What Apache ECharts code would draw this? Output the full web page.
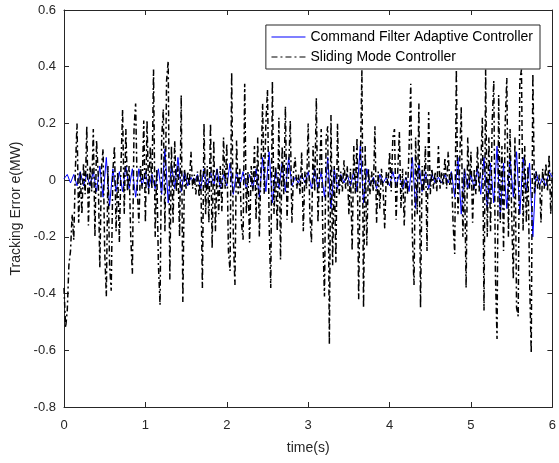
<!DOCTYPE html>
<html>
<head>
<meta charset="utf-8">
<script src="https://cdn.jsdelivr.net/npm/echarts@6/dist/echarts.min.js"></script>
<style>html,body{margin:0;padding:0;background:#fff;}#chart{width:559px;height:463px;}</style>
</head>
<body>
<div id="chart"></div>
<script>
// time step of each series' samples (s)
const smcStep = 0.02;
const cfacStep = 0.04;
// Sliding Mode Controller tracking error, samples every 0.02 s from t=0 to 6
const smcError = [
 -0.38,-0.52,-0.46,-0.30,-0.25,-0.12,-0.21,0.04,0.20,-0.15,
 0.03,-0.12,0.06,-0.05,0.19,-0.16,0.05,-0.04,0.18,-0.20,
 0.14,0.02,-0.31,0.04,0.11,-0.25,-0.41,0.05,-0.30,-0.39,
 0.03,0.12,-0.18,0.03,-0.22,0.05,0.25,-0.12,0.18,-0.04,
 0.05,-0.20,-0.33,0.18,0.27,-0.04,-0.15,0.05,-0.03,0.21,
 -0.15,0.21,-0.05,0.12,-0.03,0.39,-0.20,0.04,-0.30,-0.44,
 0.15,0.25,-0.18,0.35,0.42,-0.35,0.12,-0.15,0.14,-0.04,
 0.05,-0.20,0.30,-0.43,0.04,-0.03,0.03,-0.02,0.10,-0.03,
 0.02,-0.05,0.03,-0.06,0.04,-0.38,0.20,-0.12,0.05,-0.15,
 0.20,-0.24,0.14,-0.18,0.04,-0.12,0.05,-0.11,0.15,-0.03,
 0.13,-0.25,-0.32,0.38,-0.20,-0.37,0.14,-0.05,0.04,-0.15,
 -0.21,0.34,-0.12,0.03,-0.22,0.05,-0.04,0.12,-0.14,0.15,
 -0.20,0.05,0.27,-0.05,0.20,0.32,-0.15,-0.38,0.35,-0.12,
 0.05,-0.18,0.22,-0.28,0.12,-0.05,0.26,-0.14,0.04,0.21,
 -0.15,0.03,0.08,-0.03,0.02,-0.05,0.10,-0.18,0.03,-0.03,
 0.20,-0.12,-0.22,0.12,-0.04,0.29,-0.15,0.04,0.18,-0.20,
 -0.41,0.15,0.19,-0.58,0.23,-0.30,0.05,-0.29,0.20,-0.05,
 0.03,-0.04,0.07,-0.03,0.05,-0.12,0.04,-0.25,0.12,-0.05,
 0.15,-0.42,0.05,0.39,-0.45,0.12,-0.23,0.04,-0.05,0.03,
 -0.04,0.19,-0.15,0.03,-0.10,0.04,-0.03,-0.17,0.03,-0.02,
 0.10,-0.04,0.15,0.18,-0.14,0.03,0.17,-0.10,0.04,-0.16,
 0.03,-0.05,0.12,0.34,-0.20,-0.37,0.15,-0.12,0.27,-0.45,
 0.05,-0.04,0.12,-0.25,0.24,-0.05,0.04,-0.03,0.03,-0.04,
 0.12,-0.03,0.03,-0.02,0.08,-0.03,0.10,-0.02,0.03,-0.15,
 -0.26,0.39,-0.12,0.05,0.26,-0.20,0.04,-0.38,0.15,-0.03,
 0.10,-0.15,0.04,-0.05,0.12,-0.04,0.05,0.22,-0.46,0.39,
 -0.20,0.15,-0.18,0.20,0.35,-0.33,-0.56,0.30,-0.15,0.12,
 -0.25,0.20,0.36,-0.20,0.18,-0.12,-0.35,0.15,-0.45,-0.48,
 0.35,0.39,-0.18,0.12,-0.15,0.05,-0.35,-0.61,0.375,-0.05,
 0.03,-0.03,0.02,-0.15,0.04,-0.03,0.06,-0.04,0.09,-0.12,
 0.03
];
// Command Filter Adaptive Controller tracking error, samples every 0.04 s from t=0 to 6
const cfacError = [
 0.005,0.02,-0.01,0.02,-0.02,0.03,-0.02,0.02,-0.02,0.03,
 -0.04,0.05,-0.06,0.08,-0.09,0.04,-0.04,0.03,-0.04,0.05,
 -0.03,0.04,-0.06,0.04,-0.02,0.03,-0.03,0.02,-0.03,0.04,
 -0.05,0.11,-0.08,0.06,-0.03,0.08,-0.04,0.03,-0.02,0.01,
 -0.01,0.02,-0.03,0.04,-0.03,0.03,-0.02,0.04,-0.03,0.02,
 -0.02,0.06,-0.05,0.03,-0.02,0.03,-0.03,0.02,-0.03,0.04,
 -0.06,0.08,-0.04,0.10,-0.08,0.04,-0.03,0.06,-0.04,0.08,
 -0.02,0.01,-0.01,0.02,-0.01,0.03,-0.03,0.04,-0.03,0.03,
 -0.06,0.08,-0.10,0.04,-0.03,0.02,-0.01,0.02,-0.02,0.03,
 -0.04,0.12,-0.08,0.04,-0.02,0.01,-0.03,0.02,-0.01,0.01,
 -0.02,0.03,-0.02,0.02,-0.03,0.01,-0.04,0.08,-0.10,0.06,
 -0.04,0.03,-0.03,0.02,-0.01,0.01,-0.01,0.02,-0.01,0.03,
 -0.06,0.08,-0.12,0.04,-0.03,0.02,-0.03,0.04,-0.05,0.08,
 -0.10,0.06,-0.08,0.12,-0.13,0.06,-0.10,0.08,-0.06,0.10,
 -0.12,0.08,-0.04,0.06,-0.20,0.03,-0.02,0.01,-0.02,0.03,
 0.01
];
const xTicks = [0, 1, 2, 3, 4, 5, 6];
const yTicks = [-0.8, -0.6, -0.4, -0.2, 0, 0.2, 0.4, 0.6];
const seriesNames = ['Command Filter Adaptive Controller', 'Sliding Mode Controller'];
const xName = 'time(s)';
const yName = 'Tracking Error e(MW)';

const smcData = smcError.map((v, i) => [i * smcStep, v]);
const cfacData = cfacError.map((v, i) => [i * cfacStep, v]);

const axisColor = '#262626';
const font = 'Liberation Sans, Arial, sans-serif';
const chart = echarts.init(document.getElementById('chart'), null, {renderer: 'canvas'});
const baseX = {
  type: 'value', min: xTicks[0], max: xTicks[xTicks.length - 1], interval: 1,
  axisLine: {show: true, onZero: false, lineStyle: {color: axisColor, width: 1}},
  axisTick: {show: true, inside: true, length: 5, lineStyle: {color: axisColor}},
  splitLine: {show: false}
};
const baseY = {
  type: 'value', min: yTicks[0], max: yTicks[yTicks.length - 1], interval: 0.2,
  axisLine: {show: true, onZero: false, lineStyle: {color: axisColor, width: 1}},
  axisTick: {show: true, inside: true, length: 5, lineStyle: {color: axisColor}},
  splitLine: {show: false}
};
chart.setOption({
  animation: false,
  backgroundColor: '#fff',
  grid: {left: 64, right: 4, top: 10, bottom: 56, containLabel: false},
  legend: {
    orient: 'vertical', right: 19, top: 25,
    data: seriesNames,
    backgroundColor: '#fff', borderColor: axisColor, borderWidth: 1,
    padding: [5, 7, 5, 5], itemGap: 6, itemWidth: 34, itemHeight: 14,
    itemStyle: {opacity: 0},
    lineStyle: {width: 1.2},
    textStyle: {fontFamily: font, fontSize: 14, color: '#000'}
  },
  xAxis: [
    Object.assign({}, baseX, {
      position: 'bottom', name: xName, nameLocation: 'middle', nameGap: 34,
      nameTextStyle: {fontFamily: font, fontSize: 14, color: axisColor},
      axisLabel: {fontFamily: font, fontSize: 13, color: axisColor, margin: 12}
    }),
    Object.assign({}, baseX, {position: 'top', axisLabel: {show: false}})
  ],
  yAxis: [
    Object.assign({}, baseY, {
      position: 'left', name: yName, nameLocation: 'middle', nameGap: 40,
      nameTextStyle: {fontFamily: font, fontSize: 14, color: axisColor},
      axisLabel: {fontFamily: font, fontSize: 13, color: axisColor, margin: 8,
        formatter: v => Math.abs(v) < 1e-9 ? '0' : v.toFixed(1)}
    }),
    Object.assign({}, baseY, {position: 'right', axisLabel: {show: false}})
  ],
  series: [
    {
      name: seriesNames[0], type: 'line', data: cfacData, symbol: 'none',
      lineStyle: {color: '#0000ff', width: 1}, itemStyle: {color: '#0000ff'}, z: 2
    },
    {
      name: seriesNames[1], type: 'line', data: smcData, symbol: 'none',
      lineStyle: {color: '#000', width: 1.5, type: [6, 3, 2, 3]}, itemStyle: {color: '#000'}, z: 3
    }
  ]
});
</script>
</body>
</html>
